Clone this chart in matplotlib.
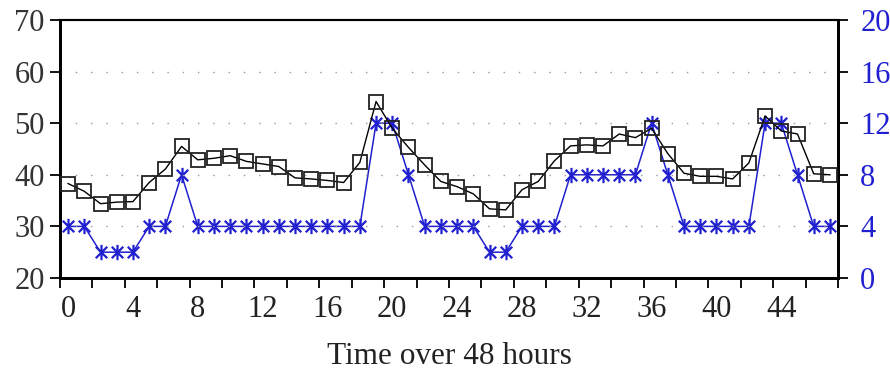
import matplotlib
matplotlib.use("Agg")
import matplotlib.pyplot as plt
from matplotlib.path import Path
import numpy as np

hours = list(range(48))
left_values = [38.3, 36.8, 34.4, 34.7, 34.8, 38.5, 41.1, 45.5, 42.9, 43.2,
               43.7, 42.6, 42.1, 41.6, 39.4, 39.2, 38.9, 38.5, 42.4, 54.2,
               49.0, 45.3, 41.9, 38.7, 37.7, 36.3, 33.4, 33.2, 37.1, 38.7,
               42.7, 45.6, 45.8, 45.6, 47.9, 47.2, 49.0, 44.1, 40.3, 39.7,
               39.7, 39.2, 42.3, 51.4, 48.5, 47.9, 40.2, 40.0]
right_values = [4, 4, 2, 2, 2, 4, 4, 8, 4, 4, 4, 4, 4, 4, 4, 4, 4, 4, 4, 12,
                12, 8, 4, 4, 4, 4, 2, 2, 4, 4, 4, 8, 8, 8, 8, 8, 12, 8, 4, 4,
                4, 4, 4, 12, 12, 8, 4, 4]
x_labels = [str(h) for h in range(0, 48, 4)]
left_ticks = [20, 30, 40, 50, 60, 70]
right_ticks = [0, 4, 8, 12, 16, 20]

plt.rcParams['font.family'] = ['Liberation Serif', 'DejaVu Serif']

fig = plt.figure(figsize=(8.9, 3.75), dpi=100)
ax = fig.add_axes([0.0674, 0.2587, 0.8742, 0.688])
ax2 = ax.twinx()

blue = '#2020d0'
ast = Path([(0, -1), (0, 1), (-0.75, -0.75), (0.75, 0.75), (-0.75, 0.75), (0.75, -0.75)],
           [Path.MOVETO, Path.LINETO, Path.MOVETO, Path.LINETO, Path.MOVETO, Path.LINETO])

ax2.plot(hours, right_values, color=blue, lw=1.1, marker=ast, markersize=11,
         markeredgewidth=1.6, markeredgecolor=blue, zorder=3)
ax.plot(hours, left_values, color='black', lw=1.0, marker='s', markersize=10,
        markerfacecolor='none', markeredgecolor='#222222', markeredgewidth=1.3, zorder=4)
ax.set_zorder(ax2.get_zorder() + 1)
ax.patch.set_visible(False)

ax.set_xlim(-0.5, 47.5)
ax.set_ylim(20, 70)
ax2.set_ylim(0, 20)

ax.set_yticks(left_ticks)
ax2.set_yticks(right_ticks)
ax.set_xticks(list(range(0, 48, 4)))
ax.set_xticklabels(x_labels)
ax.set_xticks(np.arange(-0.5, 48, 2), minor=True)
ax.tick_params(axis='x', which='major', length=0, labelsize=22, pad=12, labelcolor='#222222')
ax.tick_params(axis='x', which='minor', length=7, width=1.3, direction='out')
ax.tick_params(axis='y', length=7, width=1.3, labelsize=22, color='black',
               labelcolor='#333333', pad=4)
ax2.tick_params(axis='y', length=7, width=1.3, labelsize=22, labelcolor=blue,
                color='black', pad=9)

for y in [30, 40, 50, 60]:
    ax.axhline(y, color='#999999', lw=1.0, linestyle=(0, (1, 10)), zorder=1)

for a in (ax, ax2):
    for s in a.spines.values():
        s.set_color('black')
    a.spines['left'].set_linewidth(2)
    a.spines['bottom'].set_linewidth(2)
    a.spines['right'].set_linewidth(2)
    a.spines['top'].set_linewidth(1.5)

ax.set_xlabel('Time over 48 hours', fontsize=22.5, color='#222222')
ax.xaxis.set_label_coords(0.5, -0.25)

fig.savefig('out.png', dpi=100)
